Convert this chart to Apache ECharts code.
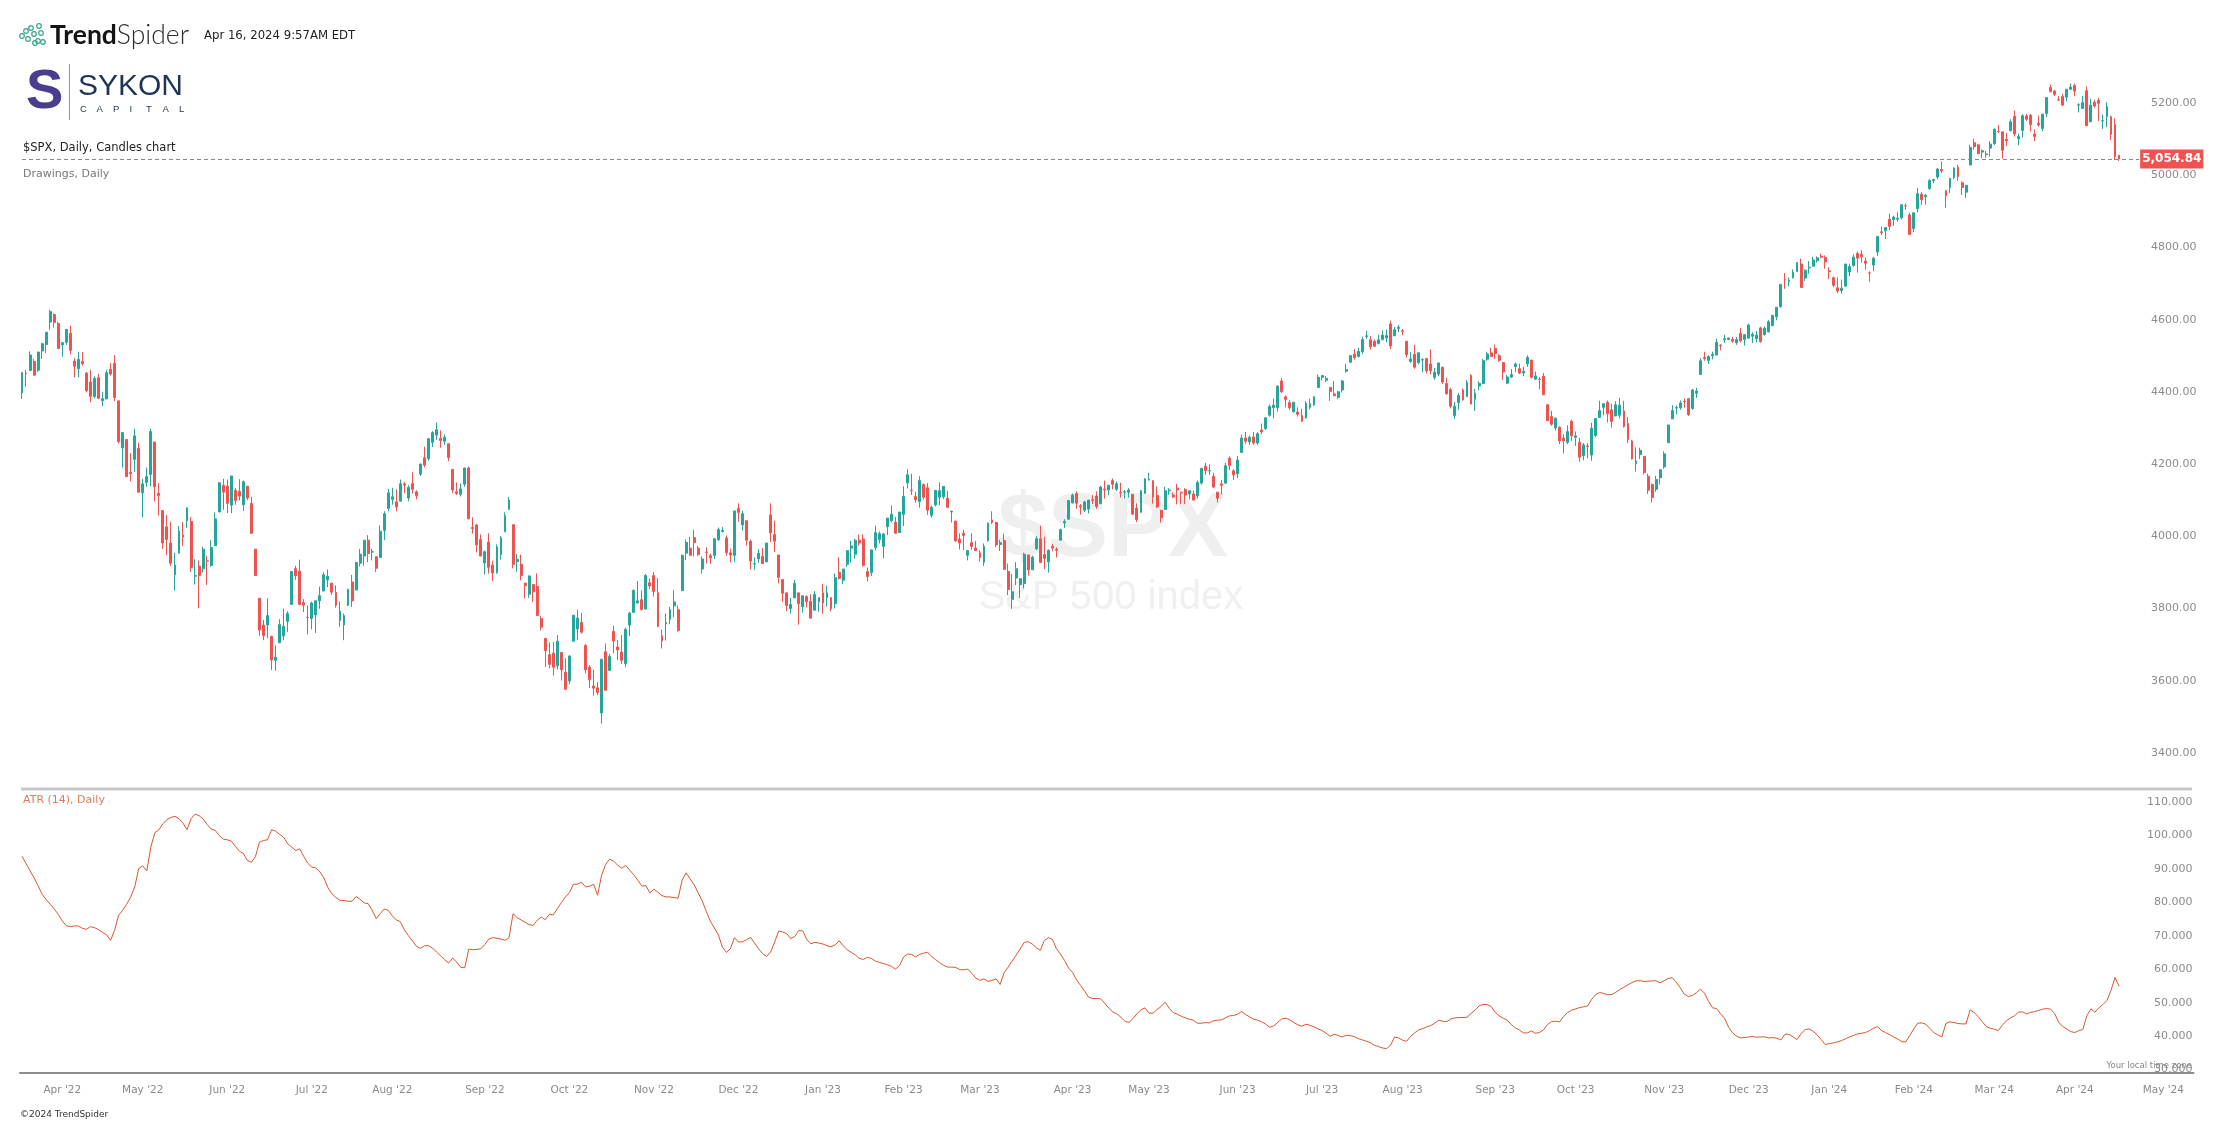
<!DOCTYPE html>
<html>
<head>
<meta charset="utf-8">
<title>$SPX, Daily, Candles chart</title>
<script src="https://cdn.jsdelivr.net/npm/echarts/dist/echarts.min.js"></script>
<style>
  html, body { margin: 0; padding: 0; background: #fff; }
  #main { width: 2222px; height: 1124px; }
</style>
</head>
<body>
<div id="main"></div>
<script type="text/javascript">
// trading calendar: first candle, last day shown on the time axis, market holidays
var firstDay = '2022-03-18';
var lastAxisDay = '2024-05-10';
var holidays = ['2022-04-15','2022-05-30','2022-06-20','2022-07-04','2022-09-05','2022-11-24','2022-12-26',
  '2023-01-02','2023-01-16','2023-02-20','2023-04-07','2023-05-29','2023-06-19','2023-07-04','2023-09-04',
  '2023-11-23','2023-12-25','2024-01-01','2024-01-15','2024-02-19','2024-03-29'];

// $SPX daily candles, one line per month (Mar '22 .. Apr '24)
var openVals = [
  4407,4462,4469,4494,4470,4523,4541,4603,4624,4599,
  4540,4547,4572,4495,4474,4494,4462,4437,4397,4449,4385,4390,4472,4489,4385,4255,4278,4187,4223,4253,
  4130,4159,4181,4271,4129,4081,4036,3991,3903,3963,4013,4053,4051,3899,3927,3920,3942,3929,3984,4077,4151,
  4149,4096,4137,4134,4097,4148,4101,3974,3838,3764,3764,3733,3666,3715,3734,3774,3821,3920,3913,3826,3785,
  3782,3792,3831,3858,3889,3880,3854,3776,3764,3818,3883,3861,3935,3955,3999,3966,3953,3951,4026,4087,
  4112,4105,4107,4155,4116,4156,4133,4182,4227,4225,4270,4290,4281,4273,4266,4195,4133,4126,4154,4199,4034,4041,4001,
  3936,3994,3930,3909,3959,4022,4084,4042,3940,3932,3880,3849,3876,3871,3782,3727,3682,3686,3651,3688,3633,
  3609,3719,3753,3771,3707,3647,3595,3590,3520,3690,3638,3746,3703,3689,3657,3764,3799,3825,3834,3808,3881,
  3901,3853,3734,3767,3780,3817,3806,3859,3963,3977,4006,3977,3919,3966,3956,3957,4000,4023,4005,3964,3957,
  4087,4041,4053,3996,3933,3947,3954,3939,4069,4015,3958,3890,3853,3810,3839,3853,3815,3843,3829,3805,3829,
  3853,3840,3840,3823,3910,3888,3932,3977,3960,3999,4002,3912,3909,3979,4001,3982,4036,4053,4049,4020,
  4070,4158,4137,4120,4106,4153,4144,4068,4097,4118,4119,4115,4077,4052,4002,4018,3957,3992,3977,
  3964,3938,3998,4055,4048,3987,3998,3912,3835,3894,3876,3879,3958,3917,3975,4003,3959,3939,3982,3974,3999,4047,4057,
  4102,4128,4094,4082,4085,4111,4121,4100,4140,4138,4164,4140,4131,4132,4132,4126,4088,4076,4129,
  4166,4164,4123,4082,4084,4136,4124,4143,4132,4139,4127,4127,4122,4157,4204,4191,4176,4132,4155,4157,4226,4191,
  4183,4242,4282,4271,4285,4268,4304,4308,4345,4366,4366,4440,4396,4380,4355,4354,4344,4338,4367,4374,4422,
  4450,4442,4422,4404,4394,4415,4467,4492,4514,4508,4521,4563,4554,4550,4544,4555,4559,4598,4565,4585,
  4579,4550,4494,4514,4491,4498,4502,4487,4450,4459,4478,4433,4416,4344,4380,4415,4397,4455,4389,4426,4433,4500,4518,
  4530,4510,4491,4434,4451,4480,4474,4462,4487,4498,4445,4445,4453,4374,4341,4310,4312,4282,4270,4328,
  4284,4270,4233,4260,4235,4289,4339,4367,4381,4360,4343,4345,4357,4322,4274,4211,4236,4231,4176,4153,4140,4172,
  4202,4269,4335,4365,4366,4384,4391,4364,4406,4458,4505,4497,4510,4512,4539,4554,4555,4555,4546,4572,4555,
  4559,4564,4557,4587,4568,4576,4593,4618,4646,4721,4715,4726,4743,4764,4725,4753,4758,4773,4786,4782,
  4745,4726,4698,4690,4703,4742,4760,4793,4791,4772,4739,4761,4797,4853,4856,4888,4887,4888,4892,4925,4900,
  4862,4917,4957,4950,4973,4995,5005,5026,4967,4976,5004,5032,4989,4963,5038,5100,5094,5074,5067,5085,
  5098,5131,5130,5109,5133,5173,5111,5134,5174,5176,5124,5154,5139,5181,5253,5243,5219,5228,5226,5248,
  5258,5204,5195,5244,5158,5212,5217,5160,5172,5172,5150,5065
];
var highVals = [
  4465,4471,4522,4501,4521,4546,4575,4637,4627,4604,
  4547,4583,4593,4503,4521,4520,4464,4471,4453,4460,4410,4471,4489,4512,4385,4299,4278,4240,4308,4269,
  4169,4200,4308,4271,4157,4082,4069,4050,3964,4038,4049,4090,4063,3946,3943,3981,3956,3999,4076,4159,4169,
  4167,4177,4143,4168,4164,4150,4119,3974,3838,3778,3838,3733,3707,3780,3809,3802,3913,3928,3945,3836,3818,
  3829,3832,3870,3910,3918,3880,3874,3829,3796,3863,3903,3939,3975,3999,4013,3975,3954,4040,4079,4141,
  4144,4140,4167,4161,4151,4187,4137,4211,4258,4280,4301,4325,4303,4292,4266,4195,4159,4156,4200,4203,4062,4044,4015,
  3970,4018,3942,3987,4010,4076,4119,4042,3961,3959,3880,3901,3876,3907,3790,3727,3716,3717,3736,3688,3672,
  3680,3791,3807,3797,3711,3653,3640,3606,3670,3713,3684,3762,3722,3736,3757,3800,3862,3886,3860,3905,3893,
  3911,3894,3751,3796,3814,3860,3818,3959,4001,4008,4028,3983,3954,3979,3962,4004,4034,4035,4012,3976,4080,
  4101,4080,4053,4001,3951,3974,3977,3991,4101,4053,3958,3890,3854,3839,3889,3853,3846,3846,3849,3858,3840,
  3878,3873,3840,3907,3951,3919,3970,3997,4003,4015,4015,3923,3973,4039,4023,4019,4061,4095,4063,4077,
  4148,4195,4183,4133,4176,4156,4157,4094,4138,4159,4148,4136,4081,4052,4018,4028,3972,4018,3997,
  3971,3990,4048,4079,4050,4000,4017,3934,3905,3938,3894,3964,3959,3956,4010,4039,4008,3973,3989,3979,4031,4057,4110,
  4128,4134,4099,4108,4110,4124,4134,4150,4164,4152,4170,4162,4158,4138,4143,4126,4101,4138,4170,
  4186,4164,4148,4082,4147,4143,4131,4155,4132,4143,4136,4136,4164,4199,4213,4209,4186,4132,4166,4213,4231,4196,
  4232,4291,4299,4289,4299,4298,4322,4340,4375,4391,4427,4448,4400,4387,4382,4367,4363,4384,4391,4398,4458,
  4456,4454,4423,4440,4412,4443,4488,4512,4528,4532,4563,4579,4565,4555,4568,4580,4582,4607,4590,4595,
  4584,4550,4520,4540,4519,4503,4502,4527,4476,4490,4479,4449,4421,4382,4407,4419,4443,4459,4418,4439,4501,4521,4532,
  4541,4514,4491,4457,4473,4491,4488,4479,4511,4498,4466,4451,4462,4375,4357,4338,4314,4292,4317,4333,
  4300,4282,4268,4268,4324,4337,4385,4378,4386,4377,4384,4393,4385,4340,4277,4256,4255,4232,4183,4156,4177,4195,
  4245,4319,4373,4372,4386,4391,4393,4418,4421,4503,4521,4511,4521,4557,4542,4568,4560,4562,4562,4587,4570,
  4599,4575,4579,4590,4591,4609,4623,4644,4709,4739,4726,4749,4768,4779,4749,4772,4784,4785,4793,4788,
  4755,4729,4727,4721,4764,4765,4791,4798,4802,4782,4744,4784,4842,4868,4866,4903,4898,4907,4929,4932,4906,
  4906,4975,4963,4958,4999,5000,5030,5048,4969,5002,5032,5039,4993,4983,5094,5111,5097,5081,5077,5104,
  5140,5149,5130,5127,5165,5189,5125,5179,5180,5180,5137,5175,5180,5225,5261,5246,5229,5235,5249,5264,
  5264,5209,5229,5256,5222,5219,5224,5178,5212,5175,5168,5066
];
var lowVals = [
  4390,4424,4469,4455,4465,4501,4517,4582,4588,4530,
  4507,4540,4514,4450,4450,4482,4408,4381,4392,4390,4370,4390,4455,4384,4267,4200,4175,4162,4188,4132,
  4062,4147,4148,4106,4067,3975,3957,3928,3859,3963,3983,4033,3911,3876,3810,3909,3875,3925,3984,4077,4083,
  4074,4074,4097,4109,4080,4110,4017,3900,3734,3722,3727,3639,3637,3715,3722,3744,3821,3889,3820,3800,3738,
  3752,3742,3809,3858,3869,3847,3812,3759,3722,3817,3814,3860,3926,3928,3938,3943,3911,3951,3999,4079,
  4097,4079,4107,4129,4107,4128,4112,4177,4201,4219,4257,4277,4255,4263,4218,4129,4124,4120,4147,4057,4017,3965,3954,
  3904,3906,3886,3906,3945,4022,4083,3921,3912,3888,3838,3839,3828,3789,3749,3648,3644,3624,3641,3610,3584,
  3600,3719,3723,3740,3630,3589,3568,3570,3491,3582,3638,3686,3667,3656,3647,3733,3799,3824,3804,3808,3864,
  3843,3758,3699,3721,3766,3786,3745,3859,3944,3957,3954,3955,3906,3935,3933,3947,3998,4020,3956,3937,3939,
  4050,4026,3984,3918,3917,3936,3933,3937,3994,3966,3879,3828,3803,3795,3839,3765,3798,3813,3784,3805,3801,
  3795,3815,3802,3810,3890,3877,3925,3937,3947,3984,3926,3885,3900,3971,3990,3949,4013,4048,4017,4020,
  4038,4142,4124,4103,4089,4112,4069,4061,4092,4096,4113,4090,4048,3995,3973,3971,3943,3973,3969,
  3940,3928,3995,4044,3980,3969,3918,3847,3809,3874,3839,3865,3901,3917,3971,3936,3919,3909,3968,3951,3999,4033,4056,
  4101,4086,4070,4077,4073,4099,4086,4100,4114,4123,4140,4135,4117,4114,4117,4069,4049,4076,4128,
  4164,4100,4088,4048,4084,4124,4116,4098,4099,4099,4112,4109,4114,4153,4180,4180,4143,4103,4126,4155,4193,4166,
  4171,4242,4266,4263,4263,4262,4292,4304,4341,4337,4355,4407,4367,4360,4352,4341,4328,4336,4361,4371,4422,
  4442,4437,4385,4398,4390,4408,4463,4490,4499,4505,4515,4557,4527,4535,4541,4552,4547,4528,4565,4575,
  4567,4505,4490,4474,4486,4464,4461,4458,4443,4453,4432,4403,4364,4335,4360,4385,4396,4376,4357,4414,4431,4496,4507,
  4501,4493,4443,4431,4448,4465,4459,4453,4479,4447,4443,4417,4402,4330,4316,4303,4265,4239,4265,4274,
  4260,4216,4220,4226,4219,4284,4339,4345,4325,4311,4343,4337,4311,4268,4223,4189,4224,4181,4127,4103,4133,4153,
  4197,4269,4335,4347,4360,4366,4343,4360,4393,4458,4496,4487,4500,4511,4525,4545,4553,4546,4540,4547,4538,
  4557,4545,4547,4546,4566,4574,4593,4608,4643,4695,4702,4724,4743,4699,4717,4737,4758,4768,4780,4751,
  4722,4700,4683,4682,4700,4730,4756,4740,4768,4748,4715,4744,4786,4844,4833,4858,4870,4881,4888,4915,4845,
  4853,4907,4928,4928,4969,4988,4999,5016,4920,4961,4999,4994,4955,4947,5038,5081,5068,5057,5058,5062,
  5094,5127,5056,5091,5132,5117,5093,5114,5160,5131,5104,5145,5132,5171,5240,5229,5216,5203,5214,5246,
  5229,5184,5195,5146,5157,5197,5160,5138,5143,5107,5052,5049
];
var closeVals = [
  4463,4461,4512,4456,4520,4543,4575,4632,4602,4530,
  4546,4583,4525,4481,4500,4488,4413,4397,4447,4392,4391,4463,4459,4394,4272,4297,4175,4183,4288,4132,
  4155,4175,4300,4147,4123,3991,4001,3935,3930,4024,4008,4088,3923,3901,3901,3974,3941,3979,4058,4158,4132,
  4101,4177,4109,4121,4161,4116,4018,3901,3750,3735,3790,3667,3675,3765,3760,3796,3912,3900,3821,3819,3785,
  3825,3831,3845,3903,3899,3855,3819,3802,3790,3863,3831,3937,3960,3999,3962,3967,3921,4024,4072,4130,
  4119,4091,4155,4152,4145,4140,4122,4210,4207,4280,4297,4305,4275,4284,4228,4138,4128,4141,4199,4058,4031,3986,3955,
  3967,3924,3908,3980,4006,4067,4110,3932,3946,3901,3873,3900,3856,3790,3758,3693,3655,3647,3719,3640,3586,
  3678,3791,3783,3744,3640,3612,3589,3577,3669,3583,3677,3720,3695,3666,3752,3797,3860,3831,3807,3901,3872,
  3857,3760,3720,3771,3807,3828,3749,3957,3993,3957,3992,3959,3947,3965,3950,4003,4028,4026,3964,3958,4080,
  4076,4072,3999,3941,3934,3963,3934,3991,4019,3996,3896,3852,3818,3821,3879,3823,3845,3829,3783,3849,3840,
  3825,3853,3809,3895,3893,3919,3970,3983,3999,3991,3929,3898,3972,4020,4017,4016,4060,4071,4018,4077,
  4120,4180,4136,4111,4164,4118,4082,4090,4137,4136,4148,4090,4079,3997,3991,4012,3970,3982,3970,
  3951,3982,4046,4048,3986,3992,3918,3862,3856,3920,3892,3960,3917,3952,4003,3937,3949,3971,3977,3971,4028,4051,4109,
  4124,4101,4091,4105,4110,4109,4092,4146,4138,4151,4154,4155,4130,4133,4138,4071,4056,4136,4169,
  4168,4119,4091,4061,4136,4138,4119,4138,4130,4124,4136,4110,4159,4198,4192,4192,4146,4115,4151,4205,4206,4180,
  4221,4282,4273,4284,4268,4294,4299,4338,4369,4373,4426,4410,4389,4366,4381,4348,4328,4378,4377,4396,4450,
  4455,4447,4411,4399,4410,4440,4472,4510,4505,4522,4555,4565,4535,4536,4554,4567,4566,4537,4582,4589,
  4577,4513,4501,4478,4518,4499,4468,4468,4464,4490,4437,4404,4370,4370,4400,4388,4436,4376,4406,4433,4497,4515,4508,
  4516,4497,4465,4451,4458,4487,4462,4467,4505,4450,4454,4444,4402,4330,4320,4337,4274,4274,4300,4288,
  4288,4229,4263,4258,4309,4336,4358,4377,4349,4328,4374,4373,4314,4278,4224,4218,4248,4186,4137,4117,4167,4194,
  4238,4318,4358,4366,4379,4383,4347,4415,4412,4496,4502,4508,4514,4547,4538,4557,4559,4550,4555,4551,4568,
  4595,4569,4567,4549,4586,4604,4622,4644,4707,4720,4719,4741,4768,4699,4747,4755,4775,4781,4783,4770,
  4743,4705,4689,4697,4764,4757,4783,4780,4784,4766,4739,4780,4840,4851,4865,4868,4894,4891,4928,4925,4846,
  4906,4959,4942,4954,4995,4998,5027,5022,4953,5001,5030,5006,4976,4982,5087,5089,5070,5078,5069,5096,
  5137,5131,5079,5105,5158,5124,5117,5175,5165,5150,5117,5149,5179,5225,5241,5234,5218,5204,5248,5254,
  5243,5205,5211,5147,5204,5202,5209,5161,5200,5123,5062,5054.84
];
// ATR (14)
var atrVals = [
  94.9,92.7,90.5,88.4,86.0,83.5,81.9,80.5,79.1,77.5,
  75.5,74.1,73.8,74.0,74.0,73.3,73.0,73.8,73.5,72.9,72.1,71.4,69.7,72.7,77.2,78.7,80.5,82.7,85.7,91.2,
  92.0,90.5,97.6,101.9,102.8,104.6,105.8,106.5,106.8,106.1,104.8,102.8,106.1,107.5,107.0,106.0,104.4,103.0,102.6,101.1,100.0,
  99.8,99.4,97.9,96.4,95.7,93.6,93.1,94.8,99.1,99.6,99.8,102.8,102.4,101.4,100.6,98.6,97.6,96.6,97.1,94.8,92.8,
  91.6,91.4,90.2,88.4,85.5,83.6,82.5,81.7,81.6,81.4,81.4,82.8,82.0,80.9,80.7,78.7,76.2,77.7,79.1,78.7,
  77.0,75.8,75.3,72.8,71.1,69.6,67.9,67.3,68.1,68.1,67.4,66.2,65.1,63.9,62.9,64.4,63.2,61.6,61.5,67.1,66.9,67.0,67.2,
  68.5,70.1,70.5,70.3,70.1,69.7,70.5,77.7,76.5,75.8,75.1,74.4,74.2,75.7,76.7,75.9,77.5,77.3,79.2,81.0,82.7,
  84.0,86.5,86.5,87.1,85.7,85.9,86.5,83.2,89.2,92.4,94.0,93.4,92.2,91.3,92.1,90.7,89.3,87.7,85.9,86.1,83.9,
  85.0,84.1,83.1,82.7,82.7,82.5,82.3,87.7,89.9,88.1,86.3,83.9,81.5,78.4,75.5,73.4,71.4,67.7,66.1,67.2,70.5,
  69.2,69.3,69.9,70.6,68.9,67.2,65.7,64.9,66.2,69.2,72.5,72.2,71.7,70.2,70.9,72.7,72.5,69.9,68.7,69.1,68.9,
  68.6,68.1,67.8,68.3,69.6,68.1,66.9,66.1,65.4,64.3,64.0,64.6,64.3,63.5,63.1,62.8,62.4,61.9,61.1,62.1,
  64.7,65.6,65.5,64.7,65.5,65.9,66.1,64.9,63.9,63.0,62.2,61.7,61.7,61.6,60.9,60.9,61.1,59.8,58.4,
  57.7,58.2,57.4,57.7,58.2,56.5,60.0,61.7,63.5,65.3,67.1,69.1,69.3,68.6,67.5,66.7,69.7,70.5,70.0,67.2,65.6,63.7,61.4,
  60.1,57.9,56.2,54.5,52.7,52.3,52.3,52.2,50.9,49.4,48.3,47.7,46.7,45.5,45.1,46.3,47.7,48.9,49.5,
  47.9,47.9,49.0,49.9,51.2,49.4,48.1,47.6,47.0,46.5,46.1,45.8,44.9,44.9,45.1,45.0,45.6,45.8,45.9,46.5,47.1,47.2,
  47.6,48.4,47.5,46.8,46.1,45.8,45.3,44.6,43.7,44.1,45.2,46.2,46.4,45.9,45.1,44.4,44.0,44.6,44.3,43.8,43.2,
  42.7,41.9,41.0,41.6,41.2,40.8,41.3,41.2,40.9,40.3,39.9,39.5,39.1,38.3,37.9,37.5,37.3,38.3,40.8,40.5,
  39.8,39.5,41.0,42.0,42.9,43.3,43.8,44.2,44.9,45.8,45.5,45.4,46.2,46.5,46.6,46.6,46.7,47.8,48.8,50.1,50.5,50.5,49.9,
  48.2,47.1,46.4,45.8,44.5,43.5,42.9,42.0,42.0,42.6,41.9,42.1,42.9,44.5,45.4,45.5,45.3,46.9,48.1,48.8,
  49.2,49.6,49.8,50.1,52.1,53.5,54.1,53.8,53.4,53.5,54.2,55.0,55.7,56.4,57.1,57.6,57.6,57.4,57.5,57.6,57.6,57.0,
  57.6,58.3,58.5,57.2,55.5,53.6,52.9,53.2,54.0,55.1,53.9,51.5,49.5,49.3,47.7,46.4,43.7,42.0,41.0,40.5,40.6,
  40.8,40.9,40.7,40.8,40.8,40.5,40.6,40.4,39.9,41.6,41.6,40.8,40.0,41.8,43.0,43.2,42.5,41.4,40.0,38.5,
  38.8,39.0,39.3,39.7,40.2,40.8,41.2,41.7,41.9,42.1,42.7,43.4,43.9,42.7,42.1,41.5,40.8,40.2,39.4,39.3,41.2,
  43.2,44.9,45.0,44.6,43.3,42.1,41.4,40.8,44.9,45.3,45.1,44.8,44.7,44.7,48.9,48.1,46.9,45.4,43.9,43.4,
  43.1,42.7,44.3,45.6,46.5,47.1,48.2,48.3,47.7,48.1,48.4,48.7,49.1,49.3,49.1,47.8,45.2,43.9,43.2,42.4,
  42.1,42.7,43.0,47.1,49.2,48.2,49.5,50.5,51.7,54.7,58.6,56.0
];

var monthNames = ['Jan','Feb','Mar','Apr','May','Jun','Jul','Aug','Sep','Oct','Nov','Dec'];

function tradingDays(from, to, skip) {
  var out = [];
  var d = new Date(from + 'T12:00:00Z');
  var end = new Date(to + 'T12:00:00Z');
  while (d <= end) {
    var s = d.toISOString().slice(0, 10);
    var wd = d.getUTCDay();
    if (wd !== 0 && wd !== 6 && skip.indexOf(s) < 0) out.push(s);
    d.setUTCDate(d.getUTCDate() + 1);
  }
  return out;
}

var dates = tradingDays(firstDay, lastAxisDay, holidays);
var n = closeVals.length;
[openVals, highVals, lowVals, atrVals].forEach(function (a) {
  if (a.length !== n) throw new Error('length mismatch ' + a.length + ' vs ' + n);
});
if (dates[n - 1] !== '2024-04-16') throw new Error('last candle date is ' + dates[n - 1]);

var candles = [];
for (var i = 0; i < n; i++) {
  candles.push([openVals[i], closeVals[i], lowVals[i], highVals[i]]);
}
var monthStart = dates.map(function (d, i) {
  return i > 0 && d.slice(0, 7) !== dates[i - 1].slice(0, 7);
});
function monthLabel(v) {
  var p = v.split('-');
  return monthNames[+p[1] - 1] + " '" + p[0].slice(2);
}
var lastClose = closeVals[n - 1];
var lastLabel = lastClose.toLocaleString('en-US', { minimumFractionDigits: 2, maximumFractionDigits: 2 });

var sans = '"DejaVu Sans", Verdana, sans-serif';
var axisGrey = '#8c8c8c';
var upColor = '#26a69a', downColor = '#ef5350';

var myChart = echarts.init(document.getElementById('main'));

var logoRings = [[22,36],[26,31],[28,39],[31,28],[34,34],[35,43],[39,26],[41,33],[43,42],[38,41]];
var graphics = [
  { type: 'text', x: 1113, y: 531, silent: true,
    style: { text: '$SPX', fill: '#efefef', font: 'bold 90px "Liberation Sans", Arial, sans-serif', align: 'center', verticalAlign: 'middle' } },
  { type: 'text', x: 1111, y: 598, silent: true,
    style: { text: 'S&P 500 index', fill: '#f0f0f0', font: '40px "Liberation Sans", Arial, sans-serif', align: 'center', verticalAlign: 'middle' } },
  { type: 'text', x: 50, y: 35,
    style: { text: '{b|Trend}{l|Spider}', verticalAlign: 'middle',
      rich: { b: { fontFamily: 'Lato', fontWeight: 'bold', fontSize: 26.5, fill: '#141414' },
              l: { fontFamily: 'Lato', fontWeight: 300, fontSize: 26.5, fill: '#2b2b2b' } } } },
  { type: 'text', x: 204, y: 36,
    style: { text: 'Apr 16, 2024 9:57AM EDT', fill: '#222', font: '11.7px ' + sans, verticalAlign: 'middle' } },
  { type: 'text', x: 26, y: 93,
    style: { text: 'S', fill: '#4b3c90', font: 'bold 56px "Liberation Sans", Arial, sans-serif', verticalAlign: 'middle' } },
  { type: 'line', shape: { x1: 69.5, y1: 64, x2: 69.5, y2: 120 }, style: { stroke: '#8f96a3', lineWidth: 1 } },
  { type: 'text', x: 78, y: 87,
    style: { text: 'SYKON', fill: '#1f3556', font: '30px "Liberation Sans", Arial, sans-serif', verticalAlign: 'middle' } },
  { type: 'text', x: 23, y: 148,
    style: { text: '$SPX, Daily, Candles chart', fill: '#222', font: '11.5px ' + sans, verticalAlign: 'middle' } },
  { type: 'text', x: 23, y: 174,
    style: { text: 'Drawings, Daily', fill: '#777', font: '11px ' + sans, verticalAlign: 'middle' } },
  { type: 'rect', shape: { x: 21, y: 787.5, width: 2171, height: 3 }, style: { fill: '#c8c8c8' } },
  { type: 'text', x: 23, y: 800,
    style: { text: 'ATR (14), Daily', fill: '#de7b5d', font: '11px ' + sans, verticalAlign: 'middle' } },
  { type: 'text', x: 2192, y: 1066,
    style: { text: 'Your local time zone', fill: '#888', font: '8.5px ' + sans, align: 'right', verticalAlign: 'middle' } },
  { type: 'text', x: 20, y: 1115,
    style: { text: '\u00a92024 TrendSpider', fill: '#333', font: '9px ' + sans, verticalAlign: 'middle' } }
];
'CAPITAL'.split('').forEach(function (ch, k) {
  graphics.push({ type: 'text', x: 80 + k * 16.5, y: 109,
    style: { text: ch, fill: '#1f3556', font: '9.5px "Liberation Sans", Arial, sans-serif', verticalAlign: 'middle' } });
});
logoRings.forEach(function (p) {
  graphics.push({ type: 'circle', shape: { cx: p[0], cy: p[1], r: 2.3 },
    style: { fill: 'none', stroke: '#3aa58a', lineWidth: 1.2 } });
});

var option = {
  animation: false,
  backgroundColor: '#fff',
  textStyle: { fontFamily: sans },
  graphic: graphics,
  grid: [
    { left: 20, right: 28.5, top: 34.4, height: 794.2, outerBoundsMode: 'none' },
    { left: 20, right: 28.5, top: 772.3, height: 300.7, outerBoundsMode: 'none' }
  ],
  xAxis: [
    { type: 'category', gridIndex: 0, data: dates, boundaryGap: true,
      axisLine: { show: false }, axisTick: { show: false }, axisLabel: { show: false }, splitLine: { show: false } },
    { type: 'category', gridIndex: 1, data: dates, boundaryGap: true,
      axisLine: { lineStyle: { color: axisGrey, width: 2 } },
      axisTick: { alignWithLabel: true, length: 8, lineStyle: { color: axisGrey },
        interval: function (idx) { return monthStart[idx]; } },
      axisLabel: { color: '#8a8a8a', fontSize: 10.5, fontFamily: sans, margin: 12,
        interval: function (idx) { return monthStart[idx]; }, formatter: monthLabel },
      splitLine: { show: false } }
  ],
  yAxis: [
    { type: 'value', gridIndex: 0, position: 'right', min: 3200, max: 5400, interval: 200,
      axisLine: { show: false }, axisTick: { show: false }, splitLine: { show: false },
      axisLabel: { inside: true, margin: -3, color: axisGrey, fontSize: 11, fontFamily: sans,
        showMinLabel: false, showMaxLabel: false, verticalAlign: 'bottom', lineHeight: 7,
        formatter: function (v) { return v.toFixed(2); } } },
    { type: 'value', gridIndex: 1, position: 'right', min: 30, max: 120, interval: 10,
      axisLine: { show: false }, axisTick: { show: false }, splitLine: { show: false },
      axisLabel: { inside: true, margin: 1, color: axisGrey, fontSize: 11, fontFamily: sans,
        showMaxLabel: false, verticalAlign: 'bottom', lineHeight: 7,
        formatter: function (v) { return v.toFixed(3); } } }
  ],
  series: [
    {
      name: '$SPX', type: 'candlestick', xAxisIndex: 0, yAxisIndex: 0,
      data: candles, barWidth: 2.4,
      itemStyle: { color: upColor, color0: downColor, borderColor: upColor, borderColor0: downColor, borderWidth: 1 },
      markLine: {
        silent: true, symbol: 'none', animation: false,
        lineStyle: { color: '#8a8a8a', type: [4, 3], width: 1.2 },
        label: { show: true, position: 'end', distance: 1, formatter: lastLabel,
          color: '#fff', backgroundColor: downColor, fontSize: 12, fontWeight: 600, fontFamily: sans,
          padding: [4, 2, 3, 2] },
        data: [[{ coord: [dates[0], lastClose] }, { coord: [dates[526], lastClose] }]]
      }
    },
    {
      name: 'ATR (14)', type: 'line', xAxisIndex: 1, yAxisIndex: 1,
      data: atrVals, showSymbol: false, symbol: 'none',
      lineStyle: { color: '#d9572f', width: 1 }
    }
  ]
};
myChart.setOption(option);
</script>
</body>
</html>
